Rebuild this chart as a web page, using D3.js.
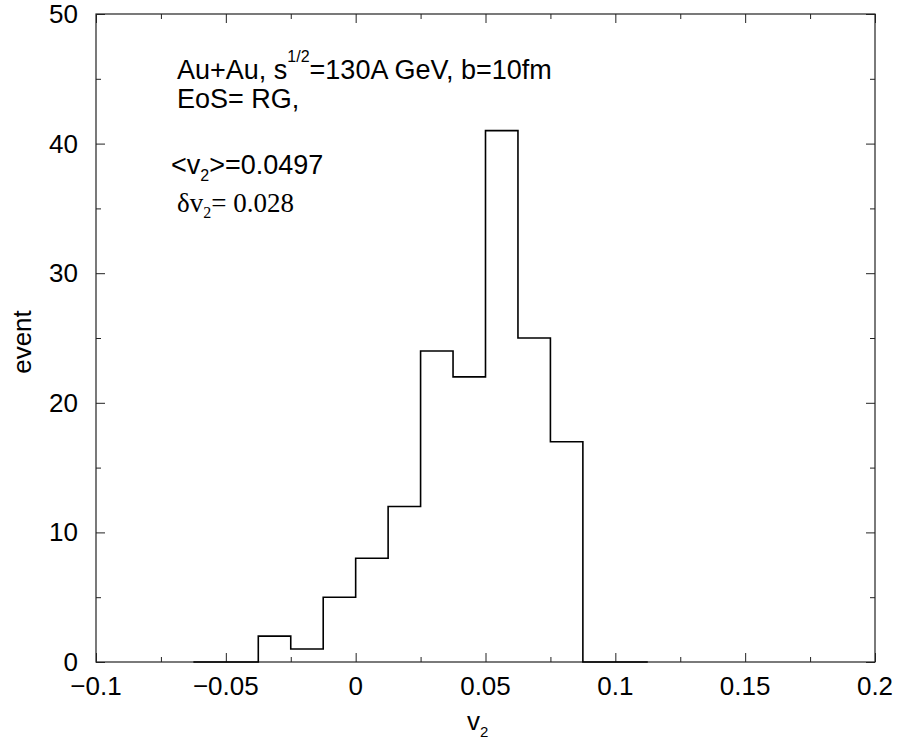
<!doctype html>
<html lang="en">
<head>
<meta charset="utf-8">
<title>v2 event distribution</title>
<script src="https://cdn.jsdelivr.net/npm/d3@7"></script>
<style>
  body { margin: 0; background: #fff; }
  text { font-family: "Liberation Sans", Arial, sans-serif; fill: #000; }
  .serif { font-family: "Liberation Serif", "Times New Roman", serif; }
</style>
</head>
<body>
<div id="viz"></div>
<script>
// histogram of v2 per event, bin edges and counts
var binEdges = [-0.0625, -0.05, -0.0375, -0.025, -0.0125, 0, 0.0125, 0.025,
                0.0375, 0.05, 0.0625, 0.075, 0.0875, 0.1, 0.1125];
var counts = [0, 0, 2, 1, 5, 8, 12, 24, 22, 41, 25, 17, 0, 0];

var xTicks = [-0.1, -0.05, 0, 0.05, 0.1, 0.15, 0.2];
var xMinor = [-0.075, -0.025, 0.025, 0.075, 0.125, 0.175];
var yTicks = [0, 10, 20, 30, 40, 50];
var yMinor = [5, 15, 25, 35, 45];

var w = 897, h = 748;
var margin = {top: 14, right: 22, bottom: 86, left: 96};
var width = w - margin.left - margin.right,
    height = h - margin.top - margin.bottom;

var svg = d3.select("#viz").append("svg")
    .attr("width", w)
    .attr("height", h);

var g = svg.append("g")
    .attr("transform", "translate(" + margin.left + "," + margin.top + ")");

var x = d3.scaleLinear().domain([-0.1, 0.2]).range([0, width]);
var y = d3.scaleLinear().domain([0, 50]).range([height, 0]);

var fmt = function(d) { return d === 0 ? "0" : String(d).replace("-", "\u2212"); };

// ticks point inward on all four sides
function tickAxis(axisFn, scale, vals, len, transform) {
  g.append("g")
    .attr("transform", transform)
    .call(axisFn(scale).tickValues(vals).tickSize(len).tickFormat(""))
    .call(s => s.select(".domain").remove())
    .call(s => s.selectAll("line").attr("stroke", "#222").attr("stroke-width", 1));
}
tickAxis(d3.axisTop, x, xTicks, 9, "translate(0," + height + ")");
tickAxis(d3.axisTop, x, xMinor, 5, "translate(0," + height + ")");
tickAxis(d3.axisBottom, x, xTicks, 9, "translate(0,0)");
tickAxis(d3.axisBottom, x, xMinor, 5, "translate(0,0)");
tickAxis(d3.axisRight, y, yTicks, 9, "translate(0,0)");
tickAxis(d3.axisRight, y, yMinor, 5, "translate(0,0)");
tickAxis(d3.axisLeft, y, yTicks, 9, "translate(" + width + ",0)");
tickAxis(d3.axisLeft, y, yMinor, 5, "translate(" + width + ",0)");

// tick labels
g.append("g").selectAll("text")
  .data(xTicks).enter().append("text")
    .attr("x", d => x(d))
    .attr("y", height + 33)
    .attr("text-anchor", "middle")
    .style("font-size", "26px")
    .text(fmt);

g.append("g").selectAll("text")
  .data(yTicks).enter().append("text")
    .attr("x", -18)
    .attr("y", d => y(d) + 9)
    .attr("text-anchor", "end")
    .style("font-size", "26px")
    .text(fmt);

// frame
g.append("rect")
  .attr("width", width).attr("height", height)
  .attr("fill", "none").attr("stroke", "#222").attr("stroke-width", 1.2);

// histogram as a step line
var pts = binEdges.map((e, i) => [e, i < counts.length ? counts[i] : counts[counts.length - 1]]);
var step = d3.line()
  .x(d => x(d[0]))
  .y(d => y(d[1]))
  .curve(d3.curveStepAfter);

g.append("path")
  .datum(pts)
  .attr("d", step)
  .attr("fill", "none")
  .attr("stroke", "#000")
  .attr("stroke-width", 1.6);

// axis titles
var xl = svg.append("text")
  .attr("x", 467).attr("y", 730)
  .style("font-size", "26px");
xl.append("tspan").text("v");
xl.append("tspan").attr("dy", 7).style("font-size", "15px").text("2");

svg.append("text")
  .attr("transform", "translate(31,342)rotate(-90)")
  .attr("text-anchor", "middle")
  .style("font-size", "26px")
  .text("event");

// annotations
var t1 = svg.append("text").attr("x", 177).attr("y", 79).style("font-size", "27px");
t1.append("tspan").text("Au+Au, s");
t1.append("tspan").attr("dy", -17).style("font-size", "16px").text("1/2");
t1.append("tspan").attr("dy", 17).text("=130A GeV, b=10fm");

svg.append("text").attr("x", 177).attr("y", 108).style("font-size", "27px").text("EoS= RG,");

var t3 = svg.append("text").attr("x", 171).attr("y", 174).style("font-size", "27px");
t3.append("tspan").text("<v");
t3.append("tspan").attr("dy", 7).style("font-size", "16px").text("2");
t3.append("tspan").attr("dy", -7).text(">=0.0497");

var t4 = svg.append("text").attr("class", "serif").attr("x", 177).attr("y", 212).style("font-size", "27px");
t4.append("tspan").text("\u03b4v");
t4.append("tspan").attr("dy", 6).style("font-size", "16px").text("2");
t4.append("tspan").attr("dy", -6).text("= 0.028");
</script>
</body>
</html>
